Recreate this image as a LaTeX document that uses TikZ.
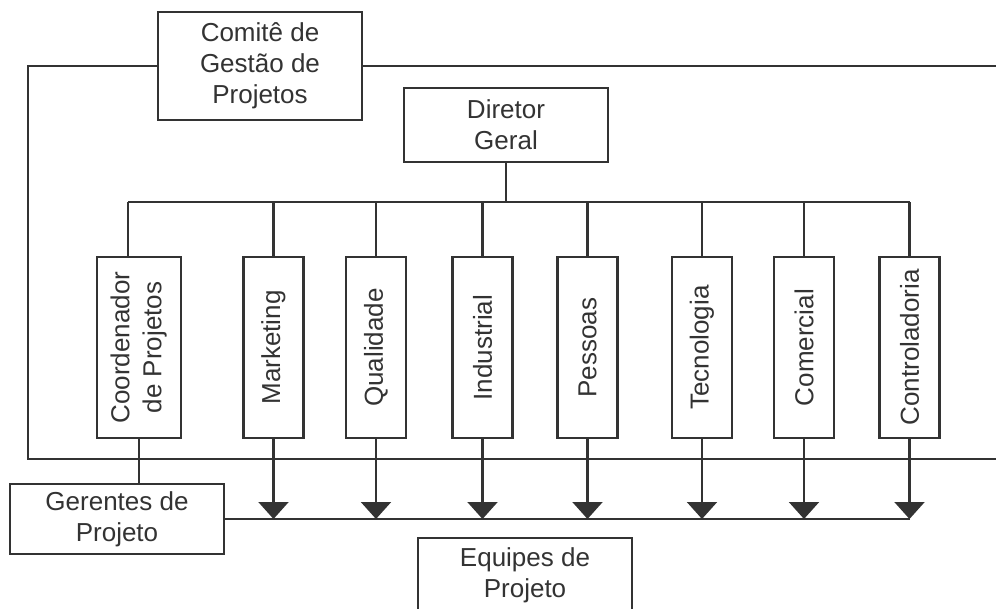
\documentclass[tikz,border=0pt]{standalone}
\usepackage{fontspec}
\setmainfont{Liberation Sans}
\usetikzlibrary{arrows.meta}
\definecolor{ink}{HTML}{333333}

\begin{document}
\begin{tikzpicture}[x=1pt, y=-1pt, line width=2.1pt, color=ink,
                    box node/.style={rectangle,draw,align=center,inner sep=0pt,font=\fontsize{26}{31}\selectfont},
                    dept node/.style={rectangle,draw,inner sep=0pt,minimum width=60pt,minimum height=181pt,font=\fontsize{26}{32}\selectfont},
                    down arrow/.style={-{Triangle[width=30pt,length=17pt]}}]

  \clip (0,0) rectangle (996,608);
  \fill[white] (0,0) rectangle (996,608);

  \node[box node,minimum width=204pt,minimum height=108pt] (comite) at (260,66) {Comitê de\\Gestão de\\Projetos};
  \node[box node,minimum width=204pt,minimum height=74pt] (dir) at (506,125) {Diretor\\Geral};
  \node[box node,minimum width=214pt,minimum height=70pt] (ger) at (117,519) {Gerentes de\\Projeto};
  \node[box node,minimum width=214pt,minimum height=74pt] (equipes) at (525,575) {Equipes de\\Projeto};

  \node[dept node,minimum width=84pt] (coord) at (139,347.5) {\rotatebox{90}{\begin{tabular}{@{}c@{}}Coordenador\\de Projetos\end{tabular}}};
  \node[dept node] (mkt)  at (273.5,347.5) {\rotatebox{90}{Marketing}};
  \node[dept node] (qual) at (376,347.5)   {\rotatebox{90}{Qualidade}};
  \node[dept node] (ind)  at (482.5,347.5) {\rotatebox{90}{Industrial}};
  \node[dept node] (pess) at (587.5,347.5) {\rotatebox{90}{Pessoas}};
  \node[dept node] (tec)  at (702,347.5)   {\rotatebox{90}{Tecnologia}};
  \node[dept node] (com)  at (804,347.5)   {\rotatebox{90}{Comercial}};
  \node[dept node] (ctrl) at (909.5,347.5) {\rotatebox{90}{Controladoria}};

  \coordinate (bus) at (0,202);
  \coordinate (cdrop) at ([xshift=-11pt]coord.north);
  \coordinate (loop bl) at (28,459);
  \coordinate (loop br) at (996,459);
  \coordinate (top r) at (996,66);

  \draw (comite.west) -| (loop bl) -- (loop br);
  \draw (comite.east) -- (comite.east -| top r);

  \draw (dir.south) -- (dir.south |- bus);
  \draw (cdrop |- bus) -- (ctrl.north |- bus);
  \draw (cdrop |- bus) -- (cdrop);
  \foreach \d in {mkt,qual,ind,pess,tec,com,ctrl}
    \draw (\d.north |- bus) -- (\d.north);

  \draw (coord.south) -- (coord.south |- ger.north);
  \draw (ger.east) -- (ger.east -| ctrl.south);
  \foreach \d in {mkt,qual,ind,pess,tec,com,ctrl}
    \draw[down arrow] (\d.south) -- (\d.south |- ger.east);

\end{tikzpicture}
\end{document}
